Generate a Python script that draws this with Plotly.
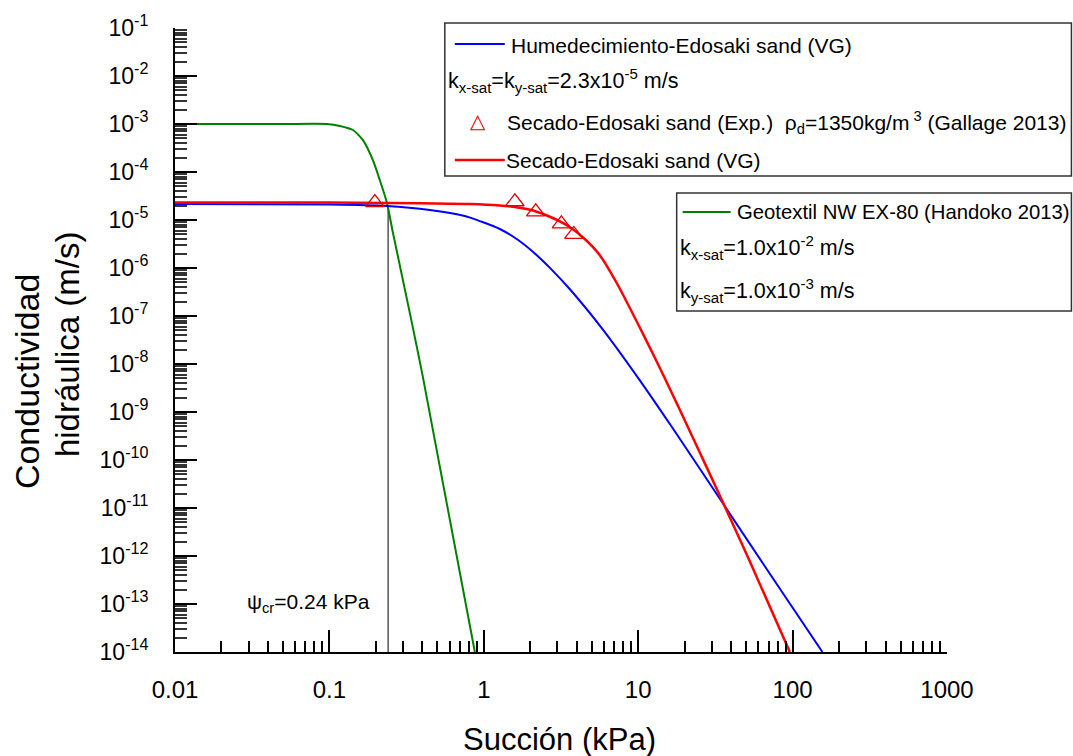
import plotly.graph_objects as go

# ---------------- data ----------------
green_x = [0.01, 0.05, 0.0964, 0.117, 0.142, 0.165, 0.191, 0.212, 0.236, 0.258, 0.332, 0.403, 0.875]
green_y = [1.0e-3, 1.0e-3, 1.0e-3, 9.1e-4, 7.5e-4, 4.6e-4, 1.78e-4, 6.8e-5, 2.26e-5, 5.4e-6, 1.15e-7, 5.4e-9, 1.0e-14]

red_x = [0.01, 0.1, 0.81, 1.27, 1.66, 2.08, 2.8, 3.6, 4.51, 5.63, 7.26, 10.7, 14.9, 23.9, 34.7, 52.7, 96.0]
red_y = [2.32e-5, 2.32e-5, 2.15e-5, 2.0e-5, 1.82e-5, 1.58e-5, 1.10e-5, 7.15e-6, 4.02e-6, 1.87e-6, 4.87e-7,
         4.34e-8, 4.99e-9, 1.99e-10, 1.50e-11, 7.87e-13, 1.0e-14]

blue_x = [0.01, 0.1, 0.236, 0.447, 0.753, 0.942, 1.27, 1.66, 2.14, 2.75, 3.6, 5.89, 9.93, 16.7, 33.7, 67.9, 156]
blue_y = [2.15e-5, 2.1e-5, 1.96e-5, 1.62e-5, 1.21e-5, 9.5e-6, 6.5e-6, 3.87e-6, 2.01e-6, 9.26e-7, 3.65e-7,
          5.28e-8, 5.28e-9, 4.64e-10, 1.58e-11, 5.37e-13, 1.0e-14]

exp_x = [0.197, 1.59, 2.17, 3.18, 3.83]
exp_y = [2.3e-5, 2.4e-5, 1.48e-5, 8.3e-6, 5.0e-6]

psi_cr_x = [0.24, 0.24]
psi_cr_y = [1.0e-14, 1.96e-5]

x_tickvals = [0.01, 0.1, 1, 10, 100, 1000]
x_ticktext = ["0.01", "0.1", "1", "10", "100", "1000"]
y_exponents = list(range(-14, 0))
y_tickvals = [10.0 ** e for e in y_exponents]
y_ticktext = ["10<sup>%d</sup>" % e for e in y_exponents]

# ---------------- layout geometry ----------------
W, H = 1073, 756
X0, X1, Y0, Y1 = 175, 947.5, 28, 652   # plot area in pixels
FONT = "Liberation Sans, Arial, sans-serif"


def px(x):
    return (x - X0) / (X1 - X0)


def py(y):
    return (Y1 - y) / (Y1 - Y0)


fig = go.Figure()
fig.add_trace(go.Scatter(x=psi_cr_x, y=psi_cr_y, mode="lines", line=dict(color="black", width=1),
                         showlegend=False, hoverinfo="skip"))
fig.add_trace(go.Scatter(x=green_x, y=green_y, mode="lines", name="Geotextil NW EX-80 (Handoko 2013)",
                         line=dict(color="#008000", width=2, shape="spline", smoothing=0.6), showlegend=False))
fig.add_trace(go.Scatter(x=blue_x, y=blue_y, mode="lines", name="Humedecimiento-Edosaki sand (VG)",
                         line=dict(color="#0000FF", width=2, shape="spline", smoothing=0.8), showlegend=False))
fig.add_trace(go.Scatter(x=red_x, y=red_y, mode="lines", name="Secado-Edosaki sand (VG)",
                         line=dict(color="#FF0000", width=2.5, shape="spline", smoothing=0.8), showlegend=False))
fig.add_trace(go.Scatter(x=exp_x, y=exp_y, mode="markers", name="Secado-Edosaki sand (Exp.)",
                         marker=dict(symbol="triangle-up-open", size=16, color="#E00000", line=dict(width=1.3)),
                         showlegend=False, cliponaxis=False))

fig.update_xaxes(type="log", range=[-2, 3], showline=True, linecolor="black", linewidth=2,
                 tickmode="array", tickvals=x_tickvals, ticktext=x_ticktext,
                 ticks="inside", ticklen=22, tickwidth=2, tickcolor="black",
                 minor=dict(ticks="inside", ticklen=11, tickwidth=2, tickcolor="black", dtick="D1", showgrid=False),
                 showgrid=False, zeroline=False, ticklabelstandoff=15,
                 tickfont=dict(family=FONT, size=24, color="black"))
fig.update_yaxes(type="log", range=[-14, -1], showline=True, linecolor="black", linewidth=2,
                 tickmode="array", tickvals=y_tickvals, ticktext=y_ticktext,
                 ticks="inside", ticklen=22, tickwidth=2, tickcolor="black",
                 minor=dict(ticks="inside", ticklen=12, tickwidth=1.5, tickcolor="#333333", dtick="D1", showgrid=False),
                 showgrid=False, zeroline=False, ticklabelstandoff=20,
                 tickfont=dict(family=FONT, size=23, color="black"))

ann = []
shapes = []


def text(x, y, s, size=21, anchor="left", angle=0):
    ann.append(dict(x=px(x), y=py(y), xref="paper", yref="paper", text=s, showarrow=False,
                    xanchor=anchor, yanchor="middle", textangle=angle,
                    font=dict(family=FONT, size=size, color="black")))


# axis titles
text(560, 739, "Succión (kPa)", size=31, anchor="center")
text(27, 382, "Conductividad", size=34, anchor="center", angle=-90)
text(67, 344, "hidráulica (m/s)", size=33, anchor="center", angle=-90)

# psi critical label
text(245, 603, "ψ<sub>cr</sub>=0.24 kPa", size=21)

# legend box 1
shapes.append(dict(type="rect", xref="paper", yref="paper", x0=px(445), x1=px(1072), y0=py(176), y1=py(23),
                   line=dict(color="#333333", width=1.5), fillcolor="rgba(0,0,0,0)"))
shapes.append(dict(type="line", xref="paper", yref="paper", x0=px(455), x1=px(505), y0=py(44), y1=py(44),
                   line=dict(color="#0000FF", width=2)))
text(509, 45, "Humedecimiento-Edosaki sand (VG)")
text(446, 80, "k<sub>x-sat</sub>=k<sub>y-sat</sub>=2.3x10<sup>-5</sup> m/s", size=21.5)
ann.append(dict(x=px(478), y=py(121), xref="paper", yref="paper", text="△", showarrow=False,
                xanchor="center", yanchor="middle", font=dict(family="DejaVu Sans", size=20, color="#E00000")))
text(505, 122, "Secado-Edosaki sand (Exp.)  ρ<sub>d</sub>=1350kg/m<sup> 3</sup> (Gallage 2013)")
shapes.append(dict(type="line", xref="paper", yref="paper", x0=px(455), x1=px(505), y0=py(160), y1=py(160),
                   line=dict(color="#FF0000", width=2.5)))
text(504, 160, "Secado-Edosaki sand (VG)")

# legend box 2
shapes.append(dict(type="rect", xref="paper", yref="paper", x0=px(677), x1=px(1072), y0=py(311), y1=py(193),
                   line=dict(color="#333333", width=1.5), fillcolor="rgba(0,0,0,0)"))
shapes.append(dict(type="line", xref="paper", yref="paper", x0=px(683), x1=px(731), y0=py(212), y1=py(212),
                   line=dict(color="#008000", width=2)))
text(735, 212, "Geotextil NW EX-80 (Handoko 2013)", size=20.3)
text(678, 248, "k<sub>x-sat</sub>=1.0x10<sup>-2</sup> m/s", size=21.5)
text(678, 291, "k<sub>y-sat</sub>=1.0x10<sup>-3</sup> m/s", size=21.5)

fig.update_layout(width=W, height=H, autosize=False,
                  margin=dict(l=X0, r=W - X1, t=Y0, b=H - Y1, pad=0),
                  plot_bgcolor="white", paper_bgcolor="white",
                  annotations=ann, shapes=shapes, showlegend=False,
                  font=dict(family=FONT, color="black"))

fig.write_html("out.html", config={"displayModeBar": False},
               post_script="document.body.style.margin='0px';document.body.style.overflow='hidden';")
